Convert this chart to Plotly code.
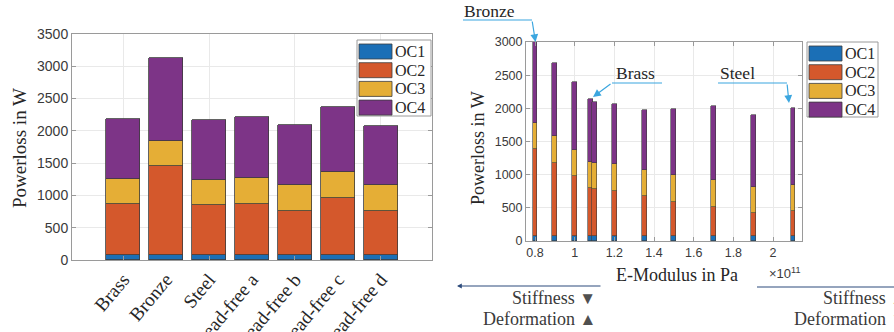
import plotly.graph_objects as go

# ---------------- data ----------------
materials = ["Brass", "Bronze", "Steel", "Lead-free a", "Lead-free b", "Lead-free c", "Lead-free d"]
series_names = ["OC1", "OC2", "OC3", "OC4"]
left_oc1 = [70, 70, 70, 70, 70, 70, 70]
left_oc2 = [790, 1380, 777, 792, 694, 896, 694]
left_oc3 = [400, 397, 397, 413, 403, 402, 403]
left_oc4 = [920, 1286, 929, 935, 924, 996, 908]

e_modulus_pa = [0.80e11, 0.90e11, 1.00e11, 1.08e11, 1.10e11, 1.20e11, 1.35e11,
                1.50e11, 1.70e11, 1.90e11, 2.10e11]
right_oc1 = [70, 70, 70, 70, 70, 70, 70, 70, 70, 70, 70]
right_oc2 = [1310, 1100, 905, 730, 715, 690, 610, 525, 445, 345, 375]
right_oc3 = [400, 413, 403, 390, 390, 405, 390, 400, 400, 405, 400]
right_oc4 = [1220, 1104, 1017, 958, 927, 897, 900, 990, 1125, 1075, 1160]

right_xticks = [0.8, 1.0, 1.2, 1.4, 1.6, 1.8, 2.0]
right_xticktext = ["0.8", "1", "1.2", "1.4", "1.6", "1.8", "2"]

colors = ["#1b6fb6", "#d4582c", "#e5ae36", "#7d3487"]
edge = "#3c3c3c"
SERIF = "Liberation Serif, Times New Roman, serif"
SANS = "Liberation Sans, Arial, sans-serif"
W, H = 894, 332


def X(px):
    return px / W


def Y(py):
    return 1 - py / H


fig = go.Figure()

positions = list(range(1, len(materials) + 1))
left_series = [left_oc1, left_oc2, left_oc3, left_oc4]
for name, vals, c in zip(series_names, left_series, colors):
    fig.add_trace(go.Bar(x=positions, y=vals, name=name, marker_color=c,
                         marker_line=dict(color=edge, width=0.8), width=0.8,
                         xaxis="x", yaxis="y", showlegend=False))

e_scaled = [e / 1e11 for e in e_modulus_pa]
right_series = [right_oc1, right_oc2, right_oc3, right_oc4]
for name, vals, c in zip(series_names, right_series, colors):
    fig.add_trace(go.Bar(x=e_scaled, y=vals, name=name, marker_color=c,
                         marker_line=dict(color=edge, width=0.6), width=0.024,
                         xaxis="x2", yaxis="y2", showlegend=False))

axcol = "#9a9a9a"
gridcol = "#e9e9e9"
tickfontcol = "#3a3a3a"

fig.update_layout(
    width=W, height=H, margin=dict(l=0, r=0, t=0, b=0, autoexpand=False),
    paper_bgcolor="white", plot_bgcolor="white", barmode="stack", bargap=0,
    showlegend=False,
    xaxis=dict(domain=[X(72), X(432)], range=[-0.19, 8.19], tickmode="array",
               tickvals=positions, ticktext=materials, tickangle=-50, automargin=False,
               tickfont=dict(family=SERIF, size=19, color="#262626"),
               showgrid=False, ticks="", showline=True, mirror=True,
               linecolor=axcol, linewidth=1, zeroline=False,
               minor=dict(tickmode="array", tickvals=[1, 3, 5, 7], showgrid=True,
                          gridcolor=gridcol, ticks="inside", ticklen=4, tickcolor=axcol)),
    yaxis=dict(domain=[Y(260), Y(34)], range=[0, 3500], dtick=500, showgrid=True,
               automargin=False,
               gridcolor=gridcol, ticks="inside", ticklen=4, tickcolor=axcol,
               showline=True, mirror="ticks", linecolor=axcol, linewidth=1,
               zeroline=False, tickfont=dict(family=SANS, size=14, color=tickfontcol)),
    xaxis2=dict(domain=[X(526), X(802)], range=[0.7545, 2.146], anchor="y2",
                automargin=False,
                tickmode="array", tickvals=right_xticks, ticktext=right_xticktext,
                showgrid=True, gridcolor=gridcol, ticks="inside", ticklen=4,
                tickcolor=axcol, showline=True, mirror="ticks", linecolor=axcol,
                linewidth=1, zeroline=False,
                tickfont=dict(family=SANS, size=12.5, color=tickfontcol)),
    yaxis2=dict(domain=[Y(241), Y(42)], range=[0, 3000], dtick=500, anchor="x2",
                automargin=False,
                showgrid=True, gridcolor=gridcol, ticks="inside", ticklen=4,
                tickcolor=axcol, showline=True, mirror="ticks", linecolor=axcol,
                linewidth=1, zeroline=False,
                tickfont=dict(family=SANS, size=12.5, color=tickfontcol)),
)

shapes = []
annotations = []


def label(text, x, y, xanchor="center", yanchor="middle", size=18, family=SERIF,
          color="#262626", angle=0):
    annotations.append(dict(text=text, xref="paper", yref="paper", x=X(x), y=Y(y),
                            xanchor=xanchor, yanchor=yanchor, textangle=angle,
                            showarrow=False, font=dict(family=family, size=size, color=color)))


# ---- custom legends (wide patches like the original) ----
for (bx0, by0, bx1, by1) in [(357, 40, 431, 116), (807, 42, 878, 117)]:
    shapes.append(dict(type="rect", xref="paper", yref="paper",
                       x0=X(bx0), x1=X(bx1), y0=Y(by1), y1=Y(by0),
                       line=dict(color=axcol, width=1), fillcolor="white", layer="above"))
    for i, (name, c) in enumerate(zip(series_names, colors)):
        top = by0 + 4 + i * 18.7
        shapes.append(dict(type="rect", xref="paper", yref="paper",
                           x0=X(bx0 + 2), x1=X(bx0 + 35), y0=Y(top + 15), y1=Y(top),
                           line=dict(color=edge, width=0.8), fillcolor=c, layer="above"))
        label(name, bx0 + 36, top + 7.5, xanchor="left", size=16)

# ---- axis titles ----
label("Powerloss in W", 19, 148, size=19, angle=-90)
label("Powerloss in W", 478, 148, size=18, angle=-90)
label("E-Modulus in Pa", 677, 275, size=18)
label("×10<sup>11</sup>", 767, 273, xanchor="left", size=13, family=SANS, color=tickfontcol)

# ---- callouts ----
acol = "#3ba6df"
callouts = [
    # text, text center, horizontal segment (x0, x1, y), bend point, tip
    ("Bronze", (490, 11), (463, 532, 20), (532, 20), (535.5, 42)),
    ("Brass", (635, 73), (662, 612, 83), (612, 83), (593, 97)),
    ("Steel", (737, 73), (718, 787, 83), (787, 83), (789, 103)),
]
for text, (tx, ty), (hx0, hx1, hy), (bx, by), (px_, py_) in callouts:
    label(text, tx, ty, size=17.5)
    shapes.append(dict(type="line", xref="paper", yref="paper", x0=X(hx0), x1=X(hx1),
                       y0=Y(hy), y1=Y(hy), line=dict(color=acol, width=1.2)))
    annotations.append(dict(text="", xref="paper", yref="paper", x=X(px_), y=Y(py_),
                            ax=bx - px_, ay=by - py_, showarrow=True, arrowhead=2,
                            arrowsize=1.3, arrowwidth=1.2, arrowcolor=acol, standoff=0))

# ---- bottom stiffness / deformation arrows ----
ncol = "#2d4b7c"
annotations.append(dict(text="", xref="paper", yref="paper", x=X(457), y=Y(286),
                        ax=145, ay=0, showarrow=True, arrowhead=2, arrowsize=0.8,
                        arrowwidth=1.2, arrowcolor=ncol, standoff=0))
shapes.append(dict(type="line", xref="paper", yref="paper", x0=X(757), x1=X(900),
                   y0=Y(287), y1=Y(287), line=dict(color=ncol, width=1.2)))

tcol = "#3a3a3a"
tri = "<span style='font-size:17px;color:#505050'>{}</span>"
label("Stiffness " + tri.format("▼"), 598, 298, xanchor="right", color=tcol)
label("Deformation " + tri.format("▲"), 598, 319, xanchor="right", color=tcol)
label("Stiffness " + tri.format("▲"), 821, 298, xanchor="left", color=tcol)
label("Deformation " + tri.format("▼"), 792, 319, xanchor="left", color=tcol)

fig.update_layout(shapes=shapes, annotations=annotations)
fig.write_html("out.html")
